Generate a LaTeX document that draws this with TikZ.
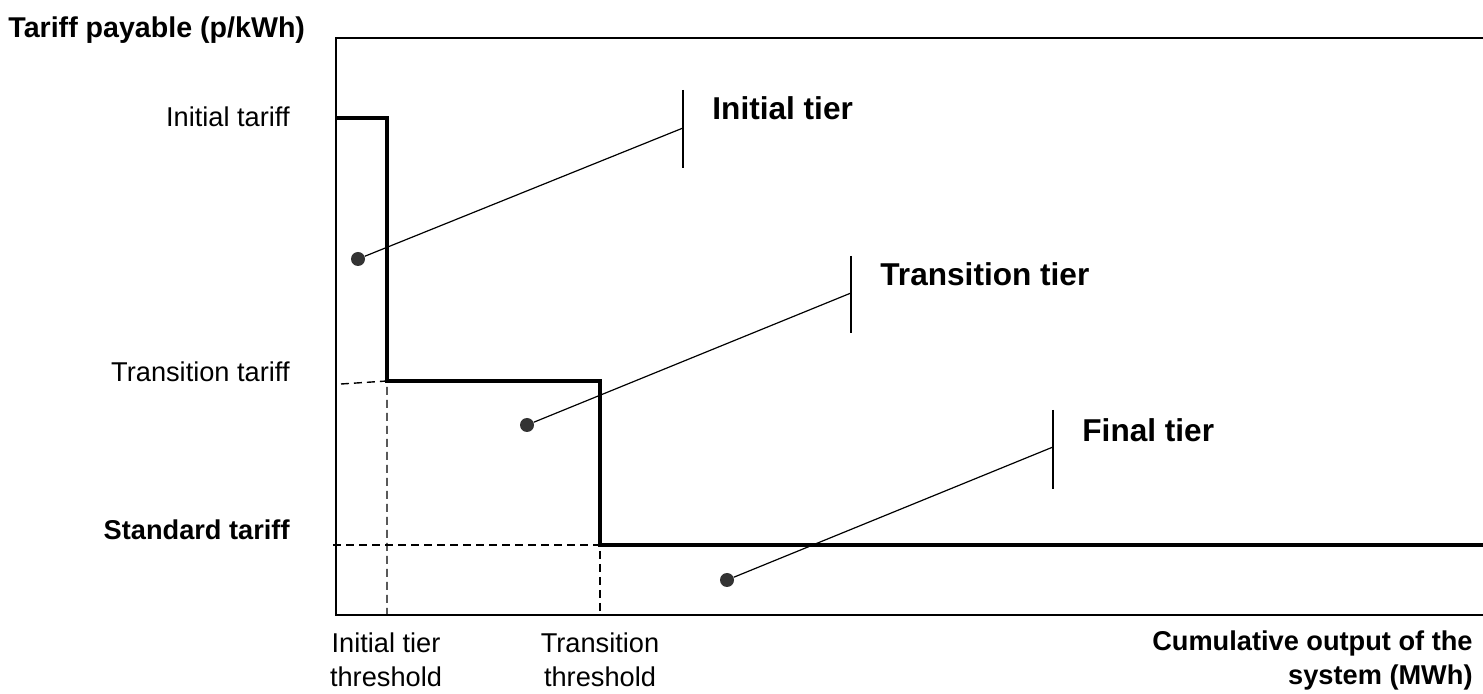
\documentclass[tikz,border=0pt]{standalone}
\usepackage{fontspec}
\setmainfont{Liberation Sans}

\begin{document}
\begin{tikzpicture}[
  x=0.5pt, y=-0.5pt,
  axis/.style     = {line width=0.8pt},
  tariff/.style   = {line width=2pt, line join=miter},
  guide/.style    = {line width=0.7pt, dash pattern=on 4pt off 2.5pt},
  leader/.style   = {line width=0.6pt},
  bar/.style      = {line width=0.6pt},
  dot/.style      = {circle, fill=black!80, inner sep=0pt, minimum size=7pt},
  ylbl/.style     = {anchor=east, inner sep=0pt, font=\fontsize{13.6}{16}\selectfont},
  xlbl/.style     = {inner sep=0pt, align=center, font=\fontsize{13.6}{17}\selectfont},
  tier/.style     = {anchor=west, inner sep=0pt, font=\fontsize{15.8}{18}\selectfont\bfseries},
]
  \useasboundingbox (0,0) rectangle (1483,694);

  % frame of the plot: left, top and bottom edges
  \coordinate (tl) at (336,38);
  \coordinate (tr) at (1483,38);
  \coordinate (bl) at (336,615);
  \coordinate (br) at (1483,615);
  \draw[axis] (tr) -- (tl) -- (bl) -- (br);

  % the stepped tariff
  \coordinate (s0) at (336,118);
  \coordinate (s1) at (387,118);
  \coordinate (s2) at (387,381);
  \coordinate (s3) at (600,381);
  \coordinate (s4) at (600,545);
  \coordinate (s5) at (1483,545);
  \draw[tariff] (s0) -- (s1) -- (s2) -- (s3) -- (s4) -- (s5);

  % dashed guides to the axes
  \coordinate (g1) at (341,384);
  \coordinate (g2) at (387,615);
  \coordinate (g3) at (333,545);
  \coordinate (g4) at (600,615);
  \draw[guide] (g1) -- (s2) -- (g2);
  \draw[guide] (g3) -- (s4) -- (g4);

  % axis labels
  \node[anchor=west, inner sep=0pt, font=\fontsize{14.3}{17}\selectfont\bfseries] (ytitle) at (8,30) {Tariff payable (p/kWh)};
  \node[ylbl] (ini) at (290,117) {Initial tariff};
  \node[ylbl] (tra) at (290,372) {Transition tariff};
  \node[ylbl, font=\fontsize{13.6}{16}\selectfont\bfseries] (std) at (290,530) {Standard tariff};
  \node[xlbl] (ith) at (386,660) {Initial tier\\threshold};
  \node[xlbl] (tth) at (600,660) {Transition\\threshold};
  \node[xlbl, anchor=east, align=right, font=\fontsize{13.6}{17}\selectfont\bfseries] (xtitle) at (1473,660) {Cumulative output of the\\system (MWh)};

  % tier call-outs
  \node[dot] (d1) at (358,259) {};
  \node[dot] (d2) at (527,425) {};
  \node[dot] (d3) at (727,580) {};
  \coordinate (b1t) at (683,90);   \coordinate (b1b) at (683,168);  \coordinate (b1) at (683,128);
  \coordinate (b2t) at (851,256);  \coordinate (b2b) at (851,333);  \coordinate (b2) at (851,293);
  \coordinate (b3t) at (1053,410); \coordinate (b3b) at (1053,489); \coordinate (b3) at (1053,447);
  \draw[bar] (b1t) -- (b1b);
  \draw[bar] (b2t) -- (b2b);
  \draw[bar] (b3t) -- (b3b);
  \draw[leader] (d1) -- (b1);
  \draw[leader] (d2) -- (b2);
  \draw[leader] (d3) -- (b3);
  \node[tier] (t1) at (712,108) {Initial tier};
  \node[tier] (t2) at (880,274) {Transition tier};
  \node[tier] (t3) at (1082,430) {Final tier};
\end{tikzpicture}
\end{document}
